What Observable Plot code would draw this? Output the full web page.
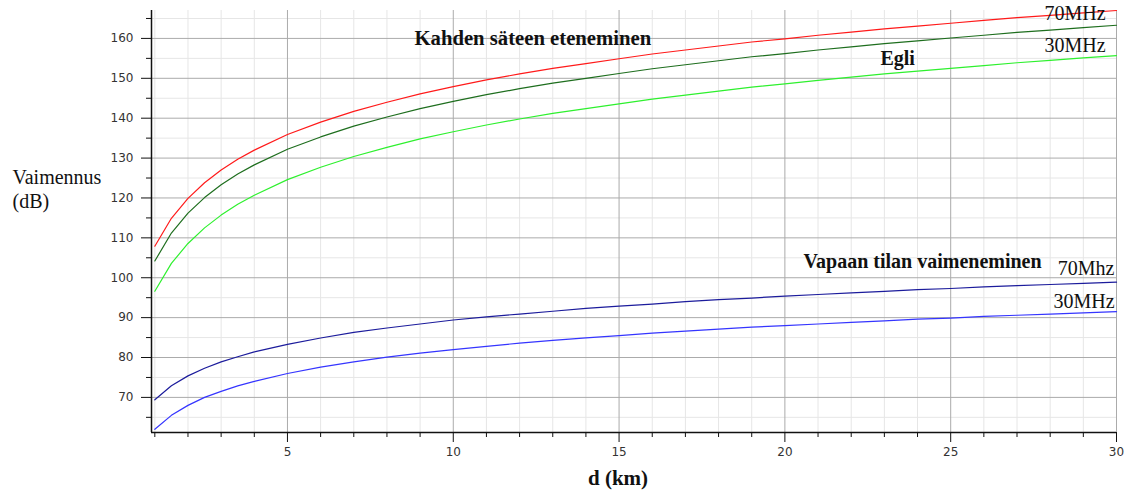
<!DOCTYPE html>
<html>
<head>
<meta charset="utf-8">
<script src="https://cdn.jsdelivr.net/npm/d3@7"></script>
<script src="https://cdn.jsdelivr.net/npm/@observablehq/plot@0.6"></script>
<style>
  html, body { margin: 0; padding: 0; background: #fff; }
</style>
</head>
<body>
<div id="chart"></div>
<script>
// distance (km)
const distances = [1, 1.5, 2, 2.5, 3, 3.5, 4, 5, 6, 7, 8, 9, 10, 11, 12, 13, 14, 15, 16, 17, 18, 19, 20, 21, 22, 23, 24, 25, 26, 27, 28, 29, 30];
// Kahden säteen eteneminen, 70 MHz (dB)
const twoRay70 = [107.9, 114.9, 119.9, 123.8, 127.0, 129.7, 132.0, 135.9, 139.0, 141.7, 144.0, 146.1, 147.9, 149.6, 151.1, 152.5, 153.7, 154.9, 156.1, 157.1, 158.1, 159.1, 159.9, 160.8, 161.6, 162.4, 163.1, 163.8, 164.5, 165.2, 165.8, 166.4, 167.0];
// Kahden säteen eteneminen, 30 MHz (dB)
const twoRay30 = [104.2, 111.2, 116.2, 120.1, 123.3, 126.0, 128.3, 132.2, 135.3, 138.0, 140.3, 142.4, 144.2, 145.9, 147.4, 148.8, 150.0, 151.2, 152.4, 153.4, 154.4, 155.4, 156.2, 157.1, 157.9, 158.7, 159.4, 160.1, 160.8, 161.5, 162.1, 162.7, 163.3];
// Egli (dB)
const egli = [96.6, 103.6, 108.6, 112.5, 115.7, 118.4, 120.7, 124.6, 127.7, 130.4, 132.7, 134.8, 136.6, 138.3, 139.8, 141.2, 142.4, 143.6, 144.8, 145.8, 146.8, 147.8, 148.6, 149.5, 150.3, 151.1, 151.8, 152.5, 153.2, 153.9, 154.5, 155.1, 155.7];
// Vapaan tilan vaimeneminen, 70 MHz (dB)
const freeSpace70 = [69.4, 72.9, 75.4, 77.3, 78.9, 80.2, 81.4, 83.3, 84.9, 86.3, 87.4, 88.4, 89.4, 90.2, 90.9, 91.6, 92.3, 92.9, 93.4, 94.0, 94.5, 94.9, 95.4, 95.8, 96.2, 96.6, 97.0, 97.3, 97.7, 98.0, 98.3, 98.6, 98.9];
// Vapaan tilan vaimeneminen, 30 MHz (dB)
const freeSpace30 = [62.0, 65.5, 68.0, 70.0, 71.5, 72.9, 74.0, 76.0, 77.6, 78.9, 80.1, 81.1, 82.0, 82.8, 83.6, 84.3, 84.9, 85.5, 86.1, 86.6, 87.1, 87.6, 88.0, 88.4, 88.8, 89.2, 89.6, 89.9, 90.3, 90.6, 90.9, 91.2, 91.5];

const seriesNames = ["twoRay70", "twoRay30", "egli", "freeSpace70", "freeSpace30"];
const seriesValues = [twoRay70, twoRay30, egli, freeSpace70, freeSpace30];
const seriesColors = ["#ff1a1a", "#1e6e1e", "#2ef02e", "#1c1c9c", "#3535ff"];

// axis ticks
const xMajorTicks = [5, 10, 15, 20, 25, 30];
const xMinorTicks = [1, 2, 3, 4, 6, 7, 8, 9, 11, 12, 13, 14, 16, 17, 18, 19, 21, 22, 23, 24, 26, 27, 28, 29];
const yMajorTicks = [70, 80, 90, 100, 110, 120, 130, 140, 150, 160];
const yMinorTicks = [65, 75, 85, 95, 105, 115, 125, 135, 145, 155, 165];

// annotation labels (data position)
const labelsBold = [
  {d: 12.4, v: 160.1, text: "Kahden säteen eteneminen", size: 20.7},
  {d: 23.4, v: 155.0, text: "Egli", size: 20},
  {d: 24.15, v: 104.0, text: "Vapaan tilan vaimeneminen", size: 20}
];
const labelsEnd = [
  {d: 29.67, v: 166.1, text: "70MHz"},
  {d: 29.67, v: 158.1, text: "30MHz"},
  {d: 29.94, v: 102.3, text: "70Mhz"},
  {d: 29.94, v: 94.1, text: "30MHz"}
];

const rows = [];
seriesNames.forEach((name, i) => {
  distances.forEach((d, j) => rows.push({series: name, d, v: seriesValues[i][j], color: seriesColors[i]}));
});

const serif = "'Liberation Serif', 'Times New Roman', serif";

const chart = Plot.plot({
  width: 1127,
  height: 494,
  marginLeft: 151,
  marginRight: 11,
  marginTop: 10,
  marginBottom: 62,
  style: {background: "#fff", fontFamily: "'DejaVu Sans', sans-serif", fontSize: "12px", color: "#333"},
  x: {domain: [0.9, 30]},
  y: {domain: [61.2, 167]},
  marks: [
    Plot.gridX(xMinorTicks, {stroke: "#e6e6e6", strokeOpacity: 1}),
    Plot.gridY(yMinorTicks, {stroke: "#e6e6e6", strokeOpacity: 1}),
    Plot.gridX(xMajorTicks, {stroke: "#ababab", strokeOpacity: 1}),
    Plot.gridY(yMajorTicks, {stroke: "#ababab", strokeOpacity: 1}),
    Plot.line(rows, {x: "d", y: "v", z: "series", stroke: "color", strokeWidth: 1.2}),
    Plot.axisX(xMajorTicks, {tickSize: 10, tickPadding: 5, stroke: "#111", label: null}),
    Plot.axisX(xMinorTicks, {tickSize: 5, tickFormat: () => "", stroke: "#111", label: null}),
    Plot.axisY(yMajorTicks, {tickSize: 10, tickPadding: 8, stroke: "#111", label: null}),
    Plot.axisY(yMinorTicks, {tickSize: 5, tickFormat: () => "", stroke: "#111", label: null}),
    Plot.ruleY([61.2], {stroke: "#111", strokeWidth: 1.5}),
    Plot.ruleX([0.9], {stroke: "#111", strokeWidth: 1.5}),
    ...labelsBold.map(l => Plot.text([l], {x: "d", y: "v", text: "text", textAnchor: "middle", fontFamily: serif, fontWeight: "bold", fontSize: l.size, fill: "#111"})),
    Plot.text(labelsEnd, {x: "d", y: "v", text: "text", textAnchor: "end", fontFamily: serif, fontSize: 20, fill: "#111"}),
    Plot.text(["Vaimennus\n(dB)"], {frameAnchor: "left", textAnchor: "start", dx: -139, dy: -33, lineHeight: 1.2, fontFamily: serif, fontSize: 20, fill: "#111"}),
    Plot.text(["d (km)"], {frameAnchor: "bottom", textAnchor: "middle", dx: -16, dy: 52, fontFamily: serif, fontWeight: "bold", fontSize: 21, fill: "#111"})
  ]
});
document.getElementById("chart").appendChild(chart);
</script>
</body>
</html>
